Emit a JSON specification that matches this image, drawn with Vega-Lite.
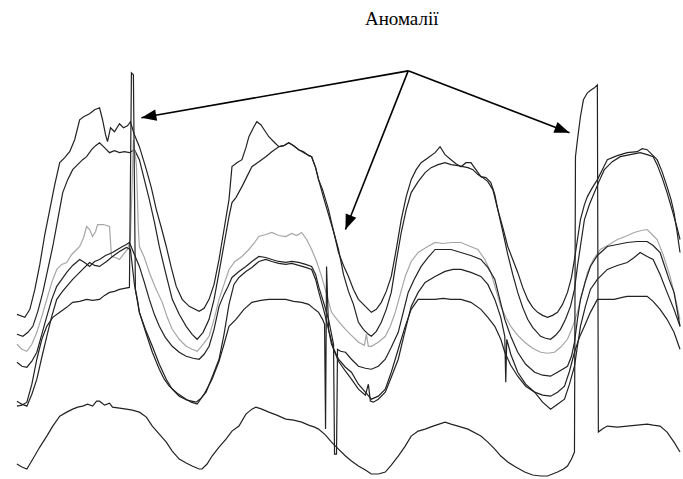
{
"$schema":"https://vega.github.io/schema/vega-lite/v6.json",
"width":683,"height":479,
"autosize":{"type":"fit","contains":"padding"},
"padding":0,
"background":"white",
"config":{"view":{"stroke":null}},
"datasets":{
"arrows":[
{"a":"a1","t":410,"v":409},{"a":"a1","t":142,"v":362},
{"a":"a2","t":410,"v":409},{"a":"a2","t":347,"v":250},
{"a":"a3","t":410,"v":409},{"a":"a3","t":572,"v":347}],
"heads":[{"t":142,"v":362,"ang":260},{"t":347,"v":250,"ang":201.6},{"t":572,"v":347,"ang":110.9}],
"label":[{"t":403.5,"v":455,"txt":"Аномалії"}]
},
"layer":[
{
"data":{"values":[
{"s":"A","t":17,"v":165},{"s":"A","t":25,"v":162},{"s":"A","t":30,"v":170},{"s":"A","t":35,"v":190},{"s":"A","t":40,"v":215},{"s":"A","t":45,"v":245},{"s":"A","t":50,"v":270},{"s":"A","t":55,"v":295},{"s":"A","t":60,"v":317},{"s":"A","t":65,"v":322},{"s":"A","t":70,"v":328},{"s":"A","t":75,"v":340},{"s":"A","t":80,"v":360},{"s":"A","t":84,"v":363},{"s":"A","t":90,"v":366},{"s":"A","t":95,"v":370},{"s":"A","t":100,"v":372},{"s":"A","t":103,"v":360},{"s":"A","t":106,"v":345},{"s":"A","t":108,"v":338},{"s":"A","t":111,"v":352},{"s":"A","t":115,"v":348},{"s":"A","t":120,"v":356},{"s":"A","t":124,"v":352},{"s":"A","t":128,"v":354},{"s":"A","t":131,"v":358},{"s":"A","t":135,"v":345},{"s":"A","t":140,"v":333},{"s":"A","t":147,"v":310},{"s":"A","t":152,"v":292},{"s":"A","t":157,"v":270},{"s":"A","t":162,"v":252},{"s":"A","t":167,"v":233},{"s":"A","t":172,"v":212},{"s":"A","t":177,"v":193},{"s":"A","t":183,"v":180},{"s":"A","t":190,"v":173},{"s":"A","t":200,"v":168},{"s":"A","t":205,"v":171},{"s":"A","t":210,"v":180},{"s":"A","t":215,"v":195},{"s":"A","t":220,"v":220},{"s":"A","t":225,"v":250},{"s":"A","t":230,"v":280},{"s":"A","t":233,"v":313},{"s":"A","t":238,"v":317},{"s":"A","t":243,"v":320},{"s":"A","t":247,"v":332},{"s":"A","t":250,"v":343},{"s":"A","t":255,"v":353},{"s":"A","t":258,"v":358},{"s":"A","t":262,"v":355},{"s":"A","t":266,"v":349},{"s":"A","t":270,"v":343},{"s":"A","t":275,"v":338},{"s":"A","t":280,"v":333},{"s":"A","t":285,"v":334},{"s":"A","t":290,"v":337},{"s":"A","t":295,"v":334},{"s":"A","t":300,"v":330},{"s":"A","t":305,"v":328},{"s":"A","t":310,"v":324},{"s":"A","t":313,"v":323},{"s":"A","t":317,"v":312},{"s":"A","t":320,"v":300},{"s":"A","t":324,"v":290},{"s":"A","t":327,"v":280},{"s":"A","t":330,"v":270},{"s":"A","t":333,"v":257},{"s":"A","t":337,"v":240},{"s":"A","t":340,"v":227},{"s":"A","t":345,"v":214},{"s":"A","t":350,"v":203},{"s":"A","t":355,"v":190},{"s":"A","t":360,"v":180},{"s":"A","t":365,"v":175},{"s":"A","t":370,"v":170},{"s":"A","t":373,"v":167},{"s":"A","t":378,"v":170},{"s":"A","t":383,"v":177},{"s":"A","t":388,"v":188},{"s":"A","t":393,"v":203},{"s":"A","t":398,"v":230},{"s":"A","t":403,"v":260},{"s":"A","t":408,"v":283},{"s":"A","t":413,"v":300},{"s":"A","t":418,"v":310},{"s":"A","t":423,"v":317},{"s":"A","t":430,"v":322},{"s":"A","t":437,"v":327},{"s":"A","t":442,"v":333},{"s":"A","t":447,"v":325},{"s":"A","t":453,"v":320},{"s":"A","t":458,"v":316},{"s":"A","t":463,"v":313},{"s":"A","t":468,"v":317},{"s":"A","t":473,"v":317},{"s":"A","t":478,"v":310},{"s":"A","t":483,"v":303},{"s":"A","t":488,"v":302},{"s":"A","t":493,"v":297},{"s":"A","t":497,"v":285},{"s":"A","t":500,"v":270},{"s":"A","t":505,"v":252},{"s":"A","t":510,"v":233},{"s":"A","t":515,"v":220},{"s":"A","t":520,"v":207},{"s":"A","t":525,"v":192},{"s":"A","t":530,"v":180},{"s":"A","t":535,"v":172},{"s":"A","t":540,"v":167},{"s":"A","t":545,"v":164},{"s":"A","t":550,"v":162},{"s":"A","t":555,"v":164},{"s":"A","t":560,"v":167},{"s":"A","t":565,"v":175},{"s":"A","t":570,"v":187},{"s":"A","t":574,"v":202},{"s":"A","t":577,"v":220},{"s":"A","t":580,"v":240},{"s":"A","t":583,"v":260},{"s":"A","t":587,"v":275},{"s":"A","t":590,"v":283},{"s":"A","t":595,"v":292},{"s":"A","t":600,"v":300},{"s":"A","t":605,"v":310},{"s":"A","t":610,"v":320},{"s":"A","t":620,"v":324},{"s":"A","t":630,"v":327},{"s":"A","t":640,"v":328},{"s":"A","t":645,"v":331},{"s":"A","t":650,"v":330},{"s":"A","t":655,"v":325},{"s":"A","t":660,"v":320},{"s":"A","t":665,"v":308},{"s":"A","t":670,"v":293},{"s":"A","t":674,"v":280},{"s":"A","t":677,"v":267},{"s":"A","t":680,"v":248},{"s":"A","t":683,"v":227},

{"s":"B","t":17,"v":145},{"s":"B","t":23,"v":143},{"s":"B","t":28,"v":147},{"s":"B","t":33,"v":153},{"s":"B","t":38,"v":168},{"s":"B","t":43,"v":187},{"s":"B","t":48,"v":210},{"s":"B","t":53,"v":233},{"s":"B","t":58,"v":260},{"s":"B","t":63,"v":287},{"s":"B","t":68,"v":300},{"s":"B","t":73,"v":310},{"s":"B","t":78,"v":315},{"s":"B","t":83,"v":320},{"s":"B","t":87,"v":323},{"s":"B","t":92,"v":330},{"s":"B","t":96,"v":334},{"s":"B","t":100,"v":337},{"s":"B","t":105,"v":332},{"s":"B","t":110,"v":327},{"s":"B","t":115,"v":329},{"s":"B","t":120,"v":327},{"s":"B","t":125,"v":328},{"s":"B","t":130,"v":327},{"s":"B","t":135,"v":330},{"s":"B","t":140,"v":320},{"s":"B","t":145,"v":300},{"s":"B","t":150,"v":280},{"s":"B","t":155,"v":258},{"s":"B","t":160,"v":233},{"s":"B","t":165,"v":212},{"s":"B","t":170,"v":192},{"s":"B","t":173,"v":180},{"s":"B","t":180,"v":165},{"s":"B","t":187,"v":153},{"s":"B","t":193,"v":145},{"s":"B","t":198,"v":140},{"s":"B","t":204,"v":147},{"s":"B","t":210,"v":160},{"s":"B","t":215,"v":180},{"s":"B","t":220,"v":207},{"s":"B","t":225,"v":235},{"s":"B","t":230,"v":263},{"s":"B","t":233,"v":277},{"s":"B","t":237,"v":282},{"s":"B","t":243,"v":293},{"s":"B","t":248,"v":303},{"s":"B","t":253,"v":313},{"s":"B","t":260,"v":318},{"s":"B","t":267,"v":323},{"s":"B","t":273,"v":328},{"s":"B","t":280,"v":333},{"s":"B","t":285,"v":334},{"s":"B","t":290,"v":337},{"s":"B","t":295,"v":334},{"s":"B","t":300,"v":330},{"s":"B","t":307,"v":326},{"s":"B","t":313,"v":323},{"s":"B","t":317,"v":312},{"s":"B","t":320,"v":300},{"s":"B","t":325,"v":282},{"s":"B","t":330,"v":265},{"s":"B","t":335,"v":248},{"s":"B","t":340,"v":230},{"s":"B","t":345,"v":205},{"s":"B","t":350,"v":188},{"s":"B","t":355,"v":175},{"s":"B","t":360,"v":157},{"s":"B","t":365,"v":150},{"s":"B","t":370,"v":145},{"s":"B","t":373,"v":143},{"s":"B","t":378,"v":148},{"s":"B","t":383,"v":157},{"s":"B","t":388,"v":170},{"s":"B","t":393,"v":187},{"s":"B","t":398,"v":218},{"s":"B","t":403,"v":247},{"s":"B","t":408,"v":270},{"s":"B","t":413,"v":287},{"s":"B","t":420,"v":298},{"s":"B","t":427,"v":307},{"s":"B","t":433,"v":312},{"s":"B","t":440,"v":315},{"s":"B","t":447,"v":317},{"s":"B","t":453,"v":315},{"s":"B","t":460,"v":314},{"s":"B","t":465,"v":313},{"s":"B","t":470,"v":312},{"s":"B","t":475,"v":310},{"s":"B","t":480,"v":305},{"s":"B","t":485,"v":302},{"s":"B","t":490,"v":298},{"s":"B","t":495,"v":290},{"s":"B","t":500,"v":270},{"s":"B","t":505,"v":248},{"s":"B","t":510,"v":225},{"s":"B","t":515,"v":205},{"s":"B","t":520,"v":187},{"s":"B","t":525,"v":172},{"s":"B","t":530,"v":160},{"s":"B","t":535,"v":152},{"s":"B","t":543,"v":143},{"s":"B","t":548,"v":141},{"s":"B","t":553,"v":140},{"s":"B","t":558,"v":144},{"s":"B","t":563,"v":150},{"s":"B","t":568,"v":160},{"s":"B","t":573,"v":173},{"s":"B","t":577,"v":190},{"s":"B","t":580,"v":213},{"s":"B","t":584,"v":240},{"s":"B","t":587,"v":260},{"s":"B","t":592,"v":275},{"s":"B","t":597,"v":287},{"s":"B","t":602,"v":299},{"s":"B","t":607,"v":310},{"s":"B","t":615,"v":318},{"s":"B","t":623,"v":323},{"s":"B","t":633,"v":325},{"s":"B","t":643,"v":327},{"s":"B","t":650,"v":325},{"s":"B","t":656,"v":323},{"s":"B","t":660,"v":315},{"s":"B","t":665,"v":302},{"s":"B","t":670,"v":287},{"s":"B","t":675,"v":270},{"s":"B","t":680,"v":252},{"s":"B","t":683,"v":240},

{"s":"C","t":17,"v":135},{"s":"C","t":22,"v":130},{"s":"C","t":27,"v":128},{"s":"C","t":32,"v":135},{"s":"C","t":37,"v":147},{"s":"C","t":42,"v":163},{"s":"C","t":47,"v":180},{"s":"C","t":52,"v":197},{"s":"C","t":57,"v":210},{"s":"C","t":62,"v":215},{"s":"C","t":67,"v":217},{"s":"C","t":72,"v":225},{"s":"C","t":77,"v":230},{"s":"C","t":80,"v":233},{"s":"C","t":84,"v":242},{"s":"C","t":87,"v":253},{"s":"C","t":90,"v":250},{"s":"C","t":93,"v":243},{"s":"C","t":96,"v":248},{"s":"C","t":98,"v":255},{"s":"C","t":104,"v":255},{"s":"C","t":110,"v":253},{"s":"C","t":112,"v":223},{"s":"C","t":116,"v":222},{"s":"C","t":120,"v":220},{"s":"C","t":124,"v":225},{"s":"C","t":128,"v":230},{"s":"C","t":131,"v":240},{"s":"C","t":134,"v":340},{"s":"C","t":137,"v":315},{"s":"C","t":139,"v":250},{"s":"C","t":140,"v":233},{"s":"C","t":145,"v":222},{"s":"C","t":150,"v":207},{"s":"C","t":156,"v":192},{"s":"C","t":163,"v":177},{"s":"C","t":168,"v":162},{"s":"C","t":173,"v":150},{"s":"C","t":180,"v":140},{"s":"C","t":187,"v":133},{"s":"C","t":193,"v":130},{"s":"C","t":198,"v":128},{"s":"C","t":204,"v":135},{"s":"C","t":210,"v":143},{"s":"C","t":215,"v":160},{"s":"C","t":220,"v":180},{"s":"C","t":225,"v":195},{"s":"C","t":230,"v":210},{"s":"C","t":236,"v":218},{"s":"C","t":243,"v":223},{"s":"C","t":250,"v":230},{"s":"C","t":255,"v":236},{"s":"C","t":260,"v":243},{"s":"C","t":267,"v":245},{"s":"C","t":273,"v":247},{"s":"C","t":280,"v":244},{"s":"C","t":287,"v":243},{"s":"C","t":293,"v":246},{"s":"C","t":298,"v":244},{"s":"C","t":303,"v":247},{"s":"C","t":308,"v":240},{"s":"C","t":313,"v":230},{"s":"C","t":318,"v":218},{"s":"C","t":323,"v":203},{"s":"C","t":328,"v":185},{"s":"C","t":333,"v":167},{"s":"C","t":340,"v":158},{"s":"C","t":347,"v":150},{"s":"C","t":353,"v":144},{"s":"C","t":360,"v":137},{"s":"C","t":366,"v":134},{"s":"C","t":368,"v":145},{"s":"C","t":370,"v":133},{"s":"C","t":373,"v":133},{"s":"C","t":380,"v":137},{"s":"C","t":387,"v":143},{"s":"C","t":392,"v":153},{"s":"C","t":397,"v":167},{"s":"C","t":402,"v":185},{"s":"C","t":407,"v":203},{"s":"C","t":413,"v":218},{"s":"C","t":420,"v":227},{"s":"C","t":428,"v":232},{"s":"C","t":437,"v":237},{"s":"C","t":445,"v":236},{"s":"C","t":453,"v":237},{"s":"C","t":463,"v":237},{"s":"C","t":470,"v":234},{"s":"C","t":480,"v":230},{"s":"C","t":487,"v":220},{"s":"C","t":493,"v":207},{"s":"C","t":498,"v":190},{"s":"C","t":503,"v":173},{"s":"C","t":508,"v":162},{"s":"C","t":513,"v":153},{"s":"C","t":520,"v":144},{"s":"C","t":527,"v":137},{"s":"C","t":535,"v":131},{"s":"C","t":543,"v":127},{"s":"C","t":550,"v":126},{"s":"C","t":557,"v":127},{"s":"C","t":563,"v":132},{"s":"C","t":570,"v":140},{"s":"C","t":575,"v":152},{"s":"C","t":580,"v":167},{"s":"C","t":585,"v":187},{"s":"C","t":590,"v":207},{"s":"C","t":596,"v":220},{"s":"C","t":603,"v":230},{"s":"C","t":612,"v":235},{"s":"C","t":620,"v":240},{"s":"C","t":628,"v":243},{"s":"C","t":637,"v":247},{"s":"C","t":644,"v":249},{"s":"C","t":650,"v":250},{"s":"C","t":655,"v":245},{"s":"C","t":660,"v":240},{"s":"C","t":666,"v":225},{"s":"C","t":673,"v":203},{"s":"C","t":678,"v":183},{"s":"C","t":683,"v":160},

{"s":"D","t":17,"v":117},{"s":"D","t":22,"v":113},{"s":"D","t":27,"v":112},{"s":"D","t":32,"v":118},{"s":"D","t":37,"v":127},{"s":"D","t":42,"v":145},{"s":"D","t":47,"v":163},{"s":"D","t":52,"v":180},{"s":"D","t":57,"v":193},{"s":"D","t":62,"v":200},{"s":"D","t":67,"v":207},{"s":"D","t":73,"v":214},{"s":"D","t":80,"v":220},{"s":"D","t":85,"v":217},{"s":"D","t":90,"v":213},{"s":"D","t":95,"v":218},{"s":"D","t":100,"v":220},{"s":"D","t":106,"v":224},{"s":"D","t":113,"v":227},{"s":"D","t":118,"v":230},{"s":"D","t":123,"v":233},{"s":"D","t":127,"v":235},{"s":"D","t":130,"v":237},{"s":"D","t":135,"v":225},{"s":"D","t":140,"v":213},{"s":"D","t":145,"v":197},{"s":"D","t":150,"v":180},{"s":"D","t":155,"v":165},{"s":"D","t":160,"v":153},{"s":"D","t":166,"v":142},{"s":"D","t":173,"v":133},{"s":"D","t":180,"v":127},{"s":"D","t":187,"v":123},{"s":"D","t":194,"v":121},{"s":"D","t":200,"v":120},{"s":"D","t":205,"v":125},{"s":"D","t":210,"v":133},{"s":"D","t":215,"v":150},{"s":"D","t":220,"v":173},{"s":"D","t":225,"v":185},{"s":"D","t":229,"v":193},{"s":"D","t":233,"v":202},{"s":"D","t":240,"v":208},{"s":"D","t":247,"v":213},{"s":"D","t":253,"v":218},{"s":"D","t":260,"v":223},{"s":"D","t":267,"v":222},{"s":"D","t":273,"v":220},{"s":"D","t":280,"v":218},{"s":"D","t":287,"v":217},{"s":"D","t":293,"v":218},{"s":"D","t":300,"v":217},{"s":"D","t":307,"v":215},{"s":"D","t":313,"v":213},{"s":"D","t":317,"v":205},{"s":"D","t":320,"v":193},{"s":"D","t":325,"v":177},{"s":"D","t":330,"v":160},{"s":"D","t":333,"v":145},{"s":"D","t":335,"v":135},{"s":"D","t":336,"v":25},{"s":"D","t":338,"v":25},{"s":"D","t":339,"v":130},{"s":"D","t":342,"v":128},{"s":"D","t":347,"v":127},{"s":"D","t":353,"v":120},{"s":"D","t":360,"v":113},{"s":"D","t":367,"v":111},{"s":"D","t":373,"v":110},{"s":"D","t":380,"v":113},{"s":"D","t":387,"v":120},{"s":"D","t":393,"v":132},{"s":"D","t":400,"v":147},{"s":"D","t":405,"v":167},{"s":"D","t":410,"v":187},{"s":"D","t":416,"v":200},{"s":"D","t":423,"v":213},{"s":"D","t":430,"v":222},{"s":"D","t":437,"v":230},{"s":"D","t":445,"v":230},{"s":"D","t":453,"v":230},{"s":"D","t":463,"v":227},{"s":"D","t":473,"v":224},{"s":"D","t":483,"v":220},{"s":"D","t":490,"v":212},{"s":"D","t":497,"v":200},{"s":"D","t":502,"v":180},{"s":"D","t":507,"v":160},{"s":"D","t":513,"v":143},{"s":"D","t":520,"v":127},{"s":"D","t":528,"v":115},{"s":"D","t":537,"v":107},{"s":"D","t":545,"v":104},{"s":"D","t":553,"v":103},{"s":"D","t":560,"v":107},{"s":"D","t":570,"v":113},{"s":"D","t":574,"v":123},{"s":"D","t":577,"v":137},{"s":"D","t":580,"v":160},{"s":"D","t":583,"v":180},{"s":"D","t":588,"v":198},{"s":"D","t":593,"v":213},{"s":"D","t":600,"v":224},{"s":"D","t":610,"v":233},{"s":"D","t":620,"v":235},{"s":"D","t":630,"v":237},{"s":"D","t":640,"v":238},{"s":"D","t":650,"v":238},{"s":"D","t":656,"v":234},{"s":"D","t":663,"v":227},{"s":"D","t":668,"v":212},{"s":"D","t":672,"v":200},{"s":"D","t":677,"v":187},{"s":"D","t":683,"v":153},

{"s":"E","t":17,"v":78},{"s":"E","t":22,"v":75},{"s":"E","t":27,"v":73},{"s":"E","t":32,"v":85},{"s":"E","t":37,"v":100},{"s":"E","t":42,"v":122},{"s":"E","t":47,"v":143},{"s":"E","t":52,"v":163},{"s":"E","t":57,"v":180},{"s":"E","t":62,"v":187},{"s":"E","t":67,"v":193},{"s":"E","t":73,"v":200},{"s":"E","t":80,"v":207},{"s":"E","t":85,"v":212},{"s":"E","t":90,"v":217},{"s":"E","t":95,"v":214},{"s":"E","t":100,"v":213},{"s":"E","t":107,"v":218},{"s":"E","t":113,"v":223},{"s":"E","t":120,"v":228},{"s":"E","t":127,"v":232},{"s":"E","t":131,"v":230},{"s":"E","t":135,"v":195},{"s":"E","t":140,"v":167},{"s":"E","t":146,"v":150},{"s":"E","t":153,"v":133},{"s":"E","t":160,"v":115},{"s":"E","t":167,"v":100},{"s":"E","t":173,"v":90},{"s":"E","t":180,"v":83},{"s":"E","t":188,"v":79},{"s":"E","t":197,"v":77},{"s":"E","t":202,"v":81},{"s":"E","t":207,"v":87},{"s":"E","t":213,"v":102},{"s":"E","t":220,"v":120},{"s":"E","t":225,"v":145},{"s":"E","t":230,"v":175},{"s":"E","t":235,"v":195},{"s":"E","t":240,"v":202},{"s":"E","t":247,"v":208},{"s":"E","t":253,"v":212},{"s":"E","t":260,"v":218},{"s":"E","t":267,"v":220},{"s":"E","t":273,"v":218},{"s":"E","t":280,"v":216},{"s":"E","t":287,"v":215},{"s":"E","t":293,"v":216},{"s":"E","t":300,"v":214},{"s":"E","t":307,"v":212},{"s":"E","t":313,"v":210},{"s":"E","t":317,"v":200},{"s":"E","t":320,"v":188},{"s":"E","t":325,"v":170},{"s":"E","t":330,"v":150},{"s":"E","t":335,"v":130},{"s":"E","t":340,"v":118},{"s":"E","t":347,"v":108},{"s":"E","t":353,"v":100},{"s":"E","t":360,"v":90},{"s":"E","t":367,"v":84},{"s":"E","t":370,"v":95},{"s":"E","t":372,"v":78},{"s":"E","t":375,"v":77},{"s":"E","t":380,"v":80},{"s":"E","t":387,"v":87},{"s":"E","t":393,"v":102},{"s":"E","t":400,"v":120},{"s":"E","t":406,"v":145},{"s":"E","t":413,"v":173},{"s":"E","t":420,"v":187},{"s":"E","t":427,"v":197},{"s":"E","t":437,"v":203},{"s":"E","t":447,"v":208},{"s":"E","t":455,"v":210},{"s":"E","t":463,"v":210},{"s":"E","t":473,"v":207},{"s":"E","t":483,"v":203},{"s":"E","t":490,"v":195},{"s":"E","t":497,"v":180},{"s":"E","t":503,"v":162},{"s":"E","t":507,"v":143},{"s":"E","t":508,"v":97},{"s":"E","t":509,"v":140},{"s":"E","t":513,"v":125},{"s":"E","t":520,"v":107},{"s":"E","t":528,"v":95},{"s":"E","t":537,"v":87},{"s":"E","t":545,"v":77},{"s":"E","t":553,"v":70},{"s":"E","t":560,"v":75},{"s":"E","t":567,"v":80},{"s":"E","t":572,"v":95},{"s":"E","t":577,"v":113},{"s":"E","t":580,"v":133},{"s":"E","t":583,"v":153},{"s":"E","t":588,"v":173},{"s":"E","t":593,"v":190},{"s":"E","t":600,"v":200},{"s":"E","t":610,"v":210},{"s":"E","t":620,"v":214},{"s":"E","t":630,"v":217},{"s":"E","t":637,"v":222},{"s":"E","t":643,"v":227},{"s":"E","t":650,"v":223},{"s":"E","t":656,"v":220},{"s":"E","t":663,"v":205},{"s":"E","t":670,"v":187},{"s":"E","t":677,"v":170},{"s":"E","t":683,"v":153},

{"s":"F","t":17,"v":73},{"s":"F","t":22,"v":74},{"s":"F","t":27,"v":77},{"s":"F","t":32,"v":95},{"s":"F","t":37,"v":120},{"s":"F","t":42,"v":140},{"s":"F","t":47,"v":153},{"s":"F","t":53,"v":162},{"s":"F","t":60,"v":167},{"s":"F","t":67,"v":172},{"s":"F","t":73,"v":177},{"s":"F","t":80,"v":178},{"s":"F","t":87,"v":180},{"s":"F","t":93,"v":179},{"s":"F","t":100,"v":180},{"s":"F","t":105,"v":184},{"s":"F","t":110,"v":187},{"s":"F","t":115,"v":188},{"s":"F","t":120,"v":190},{"s":"F","t":125,"v":191},{"s":"F","t":130,"v":192},{"s":"F","t":132,"v":407},{"s":"F","t":134,"v":405},{"s":"F","t":136,"v":190},{"s":"F","t":138,"v":180},{"s":"F","t":140,"v":167},{"s":"F","t":147,"v":145},{"s":"F","t":153,"v":127},{"s":"F","t":160,"v":110},{"s":"F","t":165,"v":100},{"s":"F","t":170,"v":93},{"s":"F","t":178,"v":86},{"s":"F","t":187,"v":80},{"s":"F","t":192,"v":77},{"s":"F","t":198,"v":75},{"s":"F","t":205,"v":85},{"s":"F","t":213,"v":100},{"s":"F","t":220,"v":118},{"s":"F","t":225,"v":135},{"s":"F","t":230,"v":153},{"s":"F","t":237,"v":160},{"s":"F","t":245,"v":170},{"s":"F","t":253,"v":177},{"s":"F","t":262,"v":179},{"s":"F","t":270,"v":180},{"s":"F","t":278,"v":180},{"s":"F","t":287,"v":180},{"s":"F","t":295,"v":178},{"s":"F","t":303,"v":177},{"s":"F","t":310,"v":175},{"s":"F","t":316,"v":170},{"s":"F","t":320,"v":167},{"s":"F","t":324,"v":160},{"s":"F","t":326,"v":155},{"s":"F","t":327,"v":50},{"s":"F","t":328,"v":213},{"s":"F","t":330,"v":150},{"s":"F","t":333,"v":135},{"s":"F","t":340,"v":120},{"s":"F","t":347,"v":112},{"s":"F","t":353,"v":107},{"s":"F","t":360,"v":95},{"s":"F","t":367,"v":87},{"s":"F","t":373,"v":80},{"s":"F","t":380,"v":83},{"s":"F","t":387,"v":90},{"s":"F","t":393,"v":107},{"s":"F","t":400,"v":130},{"s":"F","t":407,"v":153},{"s":"F","t":413,"v":170},{"s":"F","t":420,"v":180},{"s":"F","t":427,"v":180},{"s":"F","t":437,"v":180},{"s":"F","t":445,"v":181},{"s":"F","t":453,"v":180},{"s":"F","t":463,"v":180},{"s":"F","t":473,"v":177},{"s":"F","t":483,"v":170},{"s":"F","t":490,"v":162},{"s":"F","t":497,"v":153},{"s":"F","t":503,"v":140},{"s":"F","t":507,"v":127},{"s":"F","t":513,"v":114},{"s":"F","t":520,"v":103},{"s":"F","t":528,"v":93},{"s":"F","t":537,"v":87},{"s":"F","t":545,"v":84},{"s":"F","t":553,"v":83},{"s":"F","t":560,"v":87},{"s":"F","t":567,"v":93},{"s":"F","t":572,"v":108},{"s":"F","t":577,"v":127},{"s":"F","t":582,"v":142},{"s":"F","t":587,"v":153},{"s":"F","t":593,"v":167},{"s":"F","t":600,"v":180},{"s":"F","t":608,"v":180},{"s":"F","t":617,"v":180},{"s":"F","t":625,"v":182},{"s":"F","t":630,"v":183},{"s":"F","t":640,"v":183},{"s":"F","t":650,"v":183},{"s":"F","t":656,"v":178},{"s":"F","t":663,"v":170},{"s":"F","t":670,"v":160},{"s":"F","t":677,"v":147},{"s":"F","t":683,"v":130},

{"s":"G","t":17,"v":15},{"s":"G","t":22,"v":12},{"s":"G","t":27,"v":10},{"s":"G","t":30,"v":15},{"s":"G","t":33,"v":20},{"s":"G","t":40,"v":32},{"s":"G","t":47,"v":43},{"s":"G","t":53,"v":53},{"s":"G","t":60,"v":63},{"s":"G","t":67,"v":67},{"s":"G","t":73,"v":70},{"s":"G","t":78,"v":72},{"s":"G","t":83,"v":73},{"s":"G","t":88,"v":75},{"s":"G","t":93,"v":73},{"s":"G","t":97,"v":78},{"s":"G","t":100,"v":78},{"s":"G","t":105,"v":74},{"s":"G","t":110,"v":76},{"s":"G","t":113,"v":72},{"s":"G","t":120,"v":71},{"s":"G","t":127,"v":70},{"s":"G","t":133,"v":69},{"s":"G","t":140,"v":67},{"s":"G","t":147,"v":62},{"s":"G","t":153,"v":53},{"s":"G","t":160,"v":45},{"s":"G","t":167,"v":37},{"s":"G","t":173,"v":28},{"s":"G","t":180,"v":20},{"s":"G","t":187,"v":16},{"s":"G","t":193,"v":13},{"s":"G","t":200,"v":10},{"s":"G","t":203,"v":10},{"s":"G","t":208,"v":15},{"s":"G","t":213,"v":23},{"s":"G","t":220,"v":32},{"s":"G","t":227,"v":40},{"s":"G","t":233,"v":48},{"s":"G","t":240,"v":53},{"s":"G","t":247,"v":65},{"s":"G","t":253,"v":70},{"s":"G","t":257,"v":72},{"s":"G","t":263,"v":70},{"s":"G","t":270,"v":67},{"s":"G","t":278,"v":64},{"s":"G","t":287,"v":60},{"s":"G","t":295,"v":59},{"s":"G","t":303,"v":57},{"s":"G","t":310,"v":54},{"s":"G","t":316,"v":52},{"s":"G","t":320,"v":50},{"s":"G","t":327,"v":44},{"s":"G","t":333,"v":37},{"s":"G","t":340,"v":30},{"s":"G","t":347,"v":23},{"s":"G","t":353,"v":18},{"s":"G","t":360,"v":13},{"s":"G","t":367,"v":9},{"s":"G","t":373,"v":5},{"s":"G","t":380,"v":5},{"s":"G","t":387,"v":7},{"s":"G","t":393,"v":14},{"s":"G","t":400,"v":23},{"s":"G","t":407,"v":33},{"s":"G","t":413,"v":43},{"s":"G","t":420,"v":48},{"s":"G","t":427,"v":50},{"s":"G","t":435,"v":53},{"s":"G","t":447,"v":57},{"s":"G","t":453,"v":55},{"s":"G","t":460,"v":53},{"s":"G","t":470,"v":50},{"s":"G","t":483,"v":43},{"s":"G","t":490,"v":37},{"s":"G","t":497,"v":30},{"s":"G","t":503,"v":23},{"s":"G","t":510,"v":17},{"s":"G","t":518,"v":12},{"s":"G","t":527,"v":7},{"s":"G","t":535,"v":4},{"s":"G","t":543,"v":3},{"s":"G","t":550,"v":3},{"s":"G","t":560,"v":7},{"s":"G","t":566,"v":10},{"s":"G","t":570,"v":13},{"s":"G","t":574,"v":20},{"s":"G","t":577,"v":27},{"s":"G","t":578,"v":323},{"s":"G","t":580,"v":340},{"s":"G","t":583,"v":363},{"s":"G","t":586,"v":380},{"s":"G","t":590,"v":387},{"s":"G","t":594,"v":390},{"s":"G","t":597,"v":392},{"s":"G","t":600,"v":395},{"s":"G","t":601,"v":47},{"s":"G","t":605,"v":50},{"s":"G","t":610,"v":53},{"s":"G","t":620,"v":52},{"s":"G","t":630,"v":53},{"s":"G","t":640,"v":54},{"s":"G","t":650,"v":55},{"s":"G","t":656,"v":54},{"s":"G","t":663,"v":53},{"s":"G","t":670,"v":47},{"s":"G","t":677,"v":37},{"s":"G","t":683,"v":27}
]},
"mark":{"type":"line","strokeWidth":1.2,"interpolate":"linear"},
"encoding":{
"x":{"field":"t","type":"quantitative","scale":{"domain":[0,683],"nice":false,"zero":false},"axis":null},
"y":{"field":"v","type":"quantitative","scale":{"domain":[0,480],"nice":false,"zero":false},"axis":null},
"detail":{"field":"s"},
"order":{"field":"t","type":"quantitative"},
"color":{"field":"s","type":"nominal","scale":{"domain":["A","B","C","D","E","F","G"],"range":["#222222","#222222","#a6a6a6","#222222","#222222","#222222","#222222"]},"legend":null}
}
},
{
"data":{"name":"arrows"},
"mark":{"type":"line","color":"#000000","strokeWidth":1.6},
"encoding":{
"x":{"field":"t","type":"quantitative","scale":{"domain":[0,683],"nice":false,"zero":false},"axis":null},
"y":{"field":"v","type":"quantitative","scale":{"domain":[0,480],"nice":false,"zero":false},"axis":null},
"detail":{"field":"a"}
}
},
{
"data":{"name":"heads"},
"mark":{"type":"point","filled":true,"color":"#000000","opacity":1,"size":900,"strokeWidth":0,"shape":"M0,0L0.38,1L-0.38,1Z"},
"encoding":{
"x":{"field":"t","type":"quantitative","scale":{"domain":[0,683],"nice":false,"zero":false},"axis":null},
"y":{"field":"v","type":"quantitative","scale":{"domain":[0,480],"nice":false,"zero":false},"axis":null},
"angle":{"field":"ang","type":"quantitative","scale":null}
}
},
{
"data":{"name":"label"},
"mark":{"type":"text","font":"Liberation Serif","fontSize":19,"color":"#000000","align":"center","baseline":"alphabetic"},
"encoding":{
"x":{"field":"t","type":"quantitative","scale":{"domain":[0,683],"nice":false,"zero":false},"axis":null},
"y":{"field":"v","type":"quantitative","scale":{"domain":[0,480],"nice":false,"zero":false},"axis":null},
"text":{"field":"txt"}
}
}
]
}
